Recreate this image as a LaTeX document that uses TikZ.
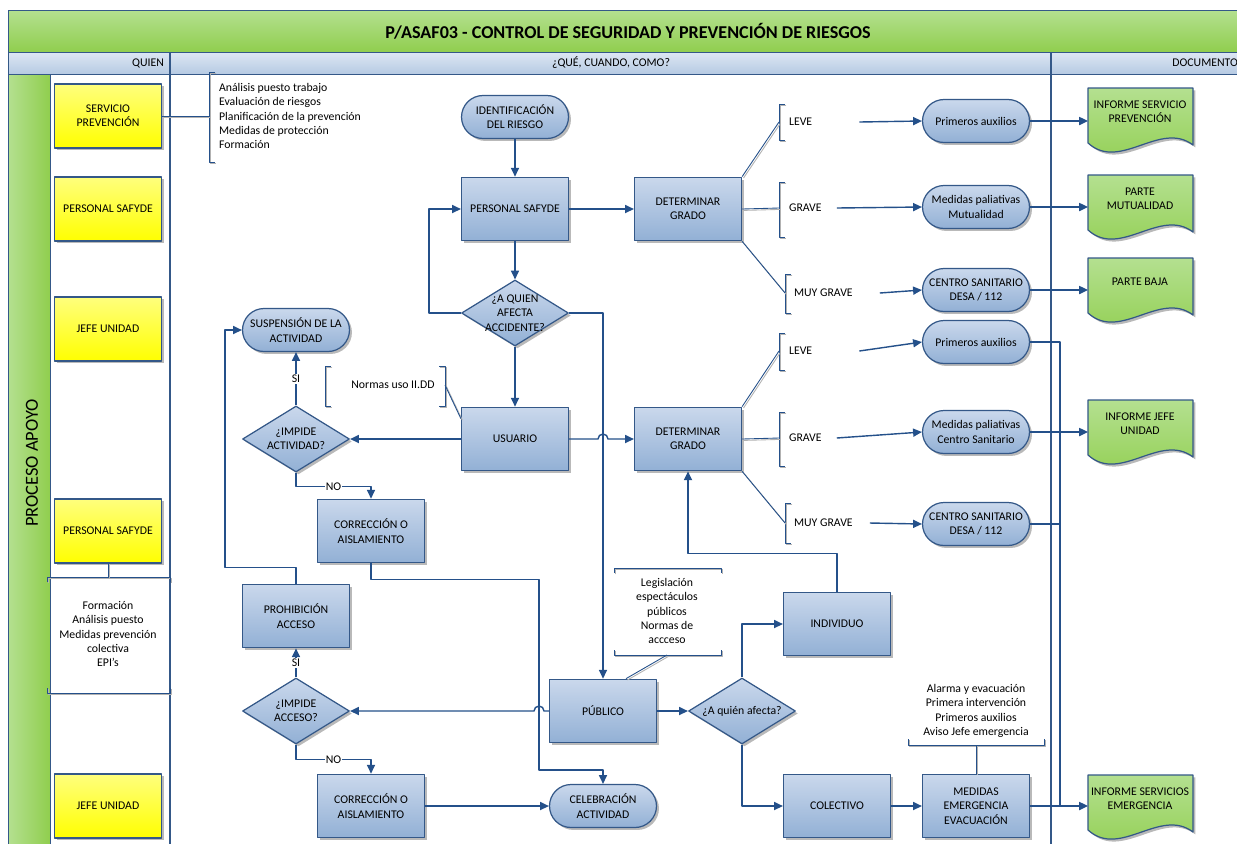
\documentclass[tikz,border=0pt]{standalone}
\usepackage{fontspec}
\setmainfont{Carlito}
\usetikzlibrary{arrows.meta,shapes.geometric,shadows}

\definecolor{linea}{RGB}{36,80,138}
\definecolor{borde}{RGB}{52,88,136}
\definecolor{cajaA}{RGB}{202,216,236}
\definecolor{cajaB}{RGB}{146,176,213}
\definecolor{verdeA}{RGB}{180,224,144}
\definecolor{verdeB}{RGB}{144,206,78}
\definecolor{cabA}{RGB}{221,231,243}
\definecolor{cabB}{RGB}{182,202,227}
\definecolor{amaA}{RGB}{255,255,125}
\definecolor{amaB}{RGB}{255,255,0}

% hoja de documento con borde ondulado (#1 = y superior)
\newcommand{\hoja}[1]{%
  \path[hojaf] (1088,#1) -- (1193,#1) -- (1193,#1+57)
    .. controls (1160,#1+32) and (1120,#1+84) .. (1088,#1+55) -- cycle;}
% corchetes
\newcommand{\corizq}[3]{\draw[llave] (#1+6,#2) -- (#1,#2) -- (#1,#3) -- (#1+6,#3);}
\newcommand{\corder}[3]{\draw[llave] (#1-6,#2) -- (#1,#2) -- (#1,#3) -- (#1-6,#3);}

\begin{document}
\begin{tikzpicture}[x=0.02cm, y=-0.02cm, >={Triangle[length=5pt,width=4.6pt]},
  line join=round, font=\fontsize{6.7}{8.1}\selectfont,
  sombra/.style={drop shadow={shadow xshift=1.4pt, shadow yshift=-1.4pt, fill=black!50, opacity=0.55}},
  proc/.style={draw=borde, line width=0.7pt, top color=cajaA, bottom color=cajaB, sombra,
    minimum width=2.14cm, minimum height=1.27cm, inner sep=1pt, align=center},
  term/.style={proc, rounded corners=0.43cm, minimum height=0.86cm},
  decis/.style={diamond, draw=borde, line width=0.7pt, top color=cajaA, bottom color=cajaB, sombra,
    minimum width=2.14cm, minimum height=1.32cm, inner sep=0pt,
    label={[align=center, inner sep=0pt]center:#1}},
  quien/.style={draw=borde, line width=0.7pt, top color=amaA, bottom color=amaB, sombra,
    minimum width=2.14cm, minimum height=1.28cm, align=center},
  hojaf/.style={draw=borde, line width=0.7pt, top color=verdeA, bottom color=verdeB, sombra},
  flujo/.style={draw=linea, line width=0.8pt, ->},
  tramo/.style={draw=linea, line width=0.8pt},
  llave/.style={draw=linea, line width=0.5pt,
    preaction={draw=black!30, line width=0.5pt, transform canvas={xshift=0.8pt, yshift=-0.8pt}}},
  sep/.style={draw=borde, line width=0.6pt},
  lbl/.style={inner sep=1pt},
  si/.style={fill=white, inner sep=0.6pt}]

  % ===== marco =====
  \useasboundingbox (0,0) rectangle (1237,843);
  \fill[white] (0,0) rectangle (1237,843);
  \path[draw=borde, top color=verdeA, bottom color=verdeB] (8,10) rectangle (1262,52);
  \path[draw=borde, top color=cabA, bottom color=cabB] (8,52) rectangle (1262,74);
  \path[draw=borde, left color=verdeA, right color=verdeB] (8,74) rectangle (50,850);
  \draw[sep] (170,52) -- (170,850);
  \draw[sep] (1051,52) -- (1051,850);

  \node[font=\bfseries\fontsize{10.3}{12}\selectfont] (titulo) at (628,31)
    {P/ASAF03 - CONTROL DE SEGURIDAD Y PREVENCIÓN DE RIESGOS};
  \node[lbl, anchor=east] (quienh) at (166,63) {QUIEN};
  \node[lbl] (queh) at (611,63) {¿QUÉ, CUANDO, COMO?};
  \node[lbl, anchor=east] (doch) at (1240,63) {DOCUMENTO};
  \node[rotate=90, font=\fontsize{10.5}{12}\selectfont] (proceso) at (32,463) {PROCESO APOYO};

  % ===== quien =====
  \node[quien] (y1) at (108,116) {SERVICIO\\PREVENCIÓN};
  \node[quien] (y2) at (108,209) {PERSONAL SAFYDE};
  \node[quien] (y3) at (108,329) {JEFE UNIDAD};
  \node[quien] (y4) at (108,531) {PERSONAL SAFYDE};
  \node[quien] (y5) at (108,806) {JEFE UNIDAD};

  \node[lbl, anchor=west, align=left] (tareas) at (217,116)
    {Análisis puesto trabajo\\Evaluación de riesgos\\Planificación de la prevención\\Medidas de protección\\Formación};
  \corizq{209}{72}{162}
  \draw[llave] (y1.east) -- (209,116);

  \node[lbl, align=center] (formacion) at (108,634)
    {Formación\\Análisis puesto\\Medidas prevención\\colectiva\\EPI’s};
  \draw[llave] (47,582) -- (47,577) -- (170,577) -- (170,582);
  \draw[llave] (47,688) -- (47,693) -- (170,693) -- (170,688);
  \draw[llave] (y4.south) -- (108,577);

  % ===== flujo principal =====
  \node[term] (ident) at (515,117) {IDENTIFICACIÓN\\DEL RIESGO};
  \node[proc] (ps) at (515,209) {PERSONAL SAFYDE};
  \node[decis={¿A QUIEN\\AFECTA\\ACCIDENTE?}] (q1) at (515,313) {};
  \node[proc] (usuario) at (515,439) {USUARIO};
  \node[proc] (dg1) at (688,209) {DETERMINAR\\GRADO};
  \node[proc] (dg2) at (688,439) {DETERMINAR\\GRADO};

  \node[term] (susp) at (296,330) {SUSPENSIÓN DE LA\\ACTIVIDAD};
  \node[decis={¿IMPIDE\\ACTIVIDAD?}] (ia1) at (296,439) {};
  \node[proc] (corr1) at (371,531) {CORRECCIÓN O\\AISLAMIENTO};
  \node[proc] (proh) at (296,616) {PROHIBICIÓN\\ACCESO};
  \node[decis={¿IMPIDE\\ACCESO?}] (ia2) at (296,711) {};
  \node[proc] (corr2) at (371,806) {CORRECCIÓN O\\AISLAMIENTO};
  \node[term] (celeb) at (603,806) {CELEBRACIÓN\\ACTIVIDAD};
  \node[proc] (pub) at (603,711) {PÚBLICO};
  \node[decis={¿A quién afecta?}] (q3) at (742,711) {};
  \node[proc] (indiv) at (837,624) {INDIVIDUO};
  \node[proc] (colect) at (837,806) {COLECTIVO};
  \node[proc] (mee) at (976,806) {MEDIDAS\\EMERGENCIA\\EVACUACIÓN};

  \draw[flujo] (ident.south) -- (ps.north);
  \draw[flujo] (ps.south) -- (q1.north);
  \draw[flujo] (q1.south) -- (usuario.north);
  \draw[flujo] (ps.east) -- (dg1.west);
  \draw[flujo] (q1.west) -- ++(-32,0) |- (ps.west);
  \draw[flujo] (q1.east) -| (pub.north);
  \coordinate (hop1) at (598,439);
  \draw[flujo] (usuario.east) -- (hop1) arc[start angle=180, end angle=0, radius=0.1cm] -- (dg2.west);
  \draw[flujo] (usuario.west) -- (ia1.east);
  \draw[flujo] (ia1.north) -- node[si] {SI} (susp.south);
  \draw[flujo] (ia1.south) -- ++(0,14) -| node[si, pos=0.25] {NO} (corr1.north);
  \draw[flujo] (corr1.south) -- ++(0,16) -| (539,770) -| (celeb.north);
  \draw[flujo] (proh.north) -- ++(0,-16) -| ([xshift=-0.34cm]susp.west) -- (susp.west);
  \coordinate (hop2) at (544,711);
  \draw[flujo] (pub.west) -- (hop2) arc[start angle=0, end angle=180, radius=0.1cm] -- (ia2.east);
  \draw[flujo] (ia2.north) -- node[si] {SI} (proh.south);
  \draw[flujo] (ia2.south) -- ++(0,15) -| node[si, pos=0.25] {NO} (corr2.north);
  \draw[flujo] (corr2.east) -- (celeb.west);
  \draw[flujo] (pub.east) -- (q3.west);
  \draw[flujo] (q3.north) |- (indiv.west);
  \draw[flujo] (q3.south) |- (colect.west);
  \draw[flujo] (colect.east) -- (mee.west);
  \draw[flujo] (indiv.north) -- ++(0,-38) -| (dg2.south);

  % ===== notas =====
  \node[lbl] (normas) at (393,385) {Normas uso II.DD};
  \corizq{325}{366}{406}
  \corder{445}{366}{406}
  \coordinate (nrm) at (445,385);
  \draw[llave] (nrm) -- ([yshift=-0.24cm]usuario.north west);

  \node[lbl, align=center] (legis) at (667,611)
    {Legislación\\espectáculos\\públicos\\Normas de\\accceso};
  \draw[llave] (614,573) -- (614,568) -- (721,568) -- (721,573);
  \draw[llave] (614,650) -- (614,655) -- (721,655) -- (721,650);
  \coordinate (lgs) at (667,655);
  \draw[llave] (lgs) -- ([xshift=0.46cm]pub.north);

  \node[lbl, align=center] (alarma) at (976,711)
    {Alarma y evacuación\\Primera intervención\\Primeros auxilios\\Aviso Jefe emergencia};
  \draw[llave] (908,739) -- (908,745) -- (1044,745) -- (1044,739);
  \coordinate (alm) at (976,745);
  \draw[llave] (alm) -- (mee.north);

  % ===== grados =====
  \node[lbl, anchor=west] (leve1) at (787,122) {LEVE};
  \node[lbl, anchor=west] (grave1) at (787,208) {GRAVE};
  \node[lbl, anchor=west] (muy1) at (792,293) {MUY GRAVE};
  \node[lbl, anchor=west] (leve2) at (787,351) {LEVE};
  \node[lbl, anchor=west] (grave2) at (787,438) {GRAVE};
  \node[lbl, anchor=west] (muy2) at (792,523) {MUY GRAVE};
  \corizq{779}{104}{140}
  \corizq{779}{182}{237}
  \corizq{785}{274}{313}
  \corizq{779}{333}{370}
  \corizq{779}{412}{466}
  \corizq{785}{503}{543}
  \draw[llave] (dg1.north east) -- ([xshift=-0.16cm]leve1.west);
  \draw[llave] (dg1.east) -- ([xshift=-0.16cm]grave1.west);
  \draw[llave] (dg1.south east) -- ([xshift=-0.14cm]muy1.west);
  \draw[llave] (dg2.north east) -- ([xshift=-0.16cm]leve2.west);
  \draw[llave] (dg2.east) -- ([xshift=-0.16cm]grave2.west);
  \draw[llave] (dg2.south east) -- ([xshift=-0.14cm]muy2.west);

  % ===== actuaciones =====
  \node[term] (pa1) at (976,121) {Primeros auxilios};
  \node[term] (mpm) at (976,207) {Medidas paliativas\\Mutualidad};
  \node[term] (cs1) at (976,290) {CENTRO SANITARIO\\DESA / 112};
  \node[term] (pa2) at (976,342) {Primeros auxilios};
  \node[term] (mpcs) at (976,432) {Medidas paliativas\\Centro Sanitario};
  \node[term] (cs2) at (976,524) {CENTRO SANITARIO\\DESA / 112};

  \draw[flujo] ([xshift=0.9cm]leve1.east) -- (pa1.west);
  \draw[flujo] ([xshift=0.26cm]grave1.east) -- (mpm.west);
  \draw[flujo] ([xshift=0.5cm]muy1.east) -- (cs1.west);
  \draw[flujo] ([xshift=0.9cm]leve2.east) -- (pa2.west);
  \draw[flujo] ([xshift=0.26cm]grave2.east) -- (mpcs.west);
  \draw[flujo] ([xshift=0.3cm]muy2.east) -- (cs2.west);

  % ===== documentos =====
  \hoja{88}
  \hoja{175}
  \hoja{258}
  \hoja{400}
  \hoja{775}
  \node[lbl, align=center] (d1) at (1140,112) {INFORME SERVICIO\\PREVENCIÓN};
  \node[lbl, align=center] (d2) at (1140,199) {PARTE\\MUTUALIDAD};
  \node[lbl, align=center] (d3) at (1140,282) {PARTE BAJA};
  \node[lbl, align=center] (d4) at (1140,424) {INFORME JEFE\\UNIDAD};
  \node[lbl, align=center] (d5) at (1140,799) {INFORME SERVICIOS\\EMERGENCIA};

  \coordinate (docizq) at (1088,0);
  \coordinate (bus) at (1060,0);
  \draw[flujo] (pa1.east) -- (pa1.east -| docizq);
  \draw[flujo] (mpm.east) -- (mpm.east -| docizq);
  \draw[flujo] (cs1.east) -- (cs1.east -| docizq);
  \draw[tramo] (pa2.east) -| (bus |- mee.east);
  \draw[tramo] (cs2.east) -- (cs2.east -| bus);
  \draw[flujo] (mpcs.east) -- (mpcs.east -| docizq);
  \draw[flujo] (mee.east) -- (mee.east -| docizq);

\end{tikzpicture}
\end{document}
